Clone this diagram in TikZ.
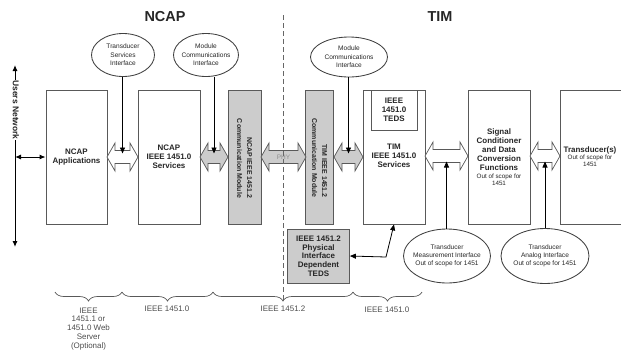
\documentclass[tikz,border=0pt]{standalone}
\usepackage{fontspec}
\setmainfont{Liberation Sans}
\usetikzlibrary{shapes.geometric,arrows.meta,decorations.pathreplacing,calc}
\newcommand\myblockarrow[5]{% name, x1, x2, yc, fill
  \draw[draw=black!65, line width=0.7bp, fill=#5, line join=miter]
    (#2,#4) -- ({#2+8},{#4-14}) -- ({#2+8},{#4-6.5}) -- ({#3-8},{#4-6.5}) -- ({#3-8},{#4-14})
    -- (#3,#4) -- ({#3-8},{#4+14}) -- ({#3-8},{#4+6.5}) -- ({#2+8},{#4+6.5}) -- ({#2+8},{#4+14}) -- cycle;
  \coordinate (#1) at ({(#2+#3)/2},#4);
  \coordinate (#1n) at ({(#2+#3)/2},{#4-6.5});
  \coordinate (#1s) at ({(#2+#3)/2},{#4+6.5});}
\begin{document}
\begin{tikzpicture}[x=1bp,y=-1bp,
 box/.style={draw=black!65, line width=0.8bp, fill=white, inner sep=0},
 gbox/.style={box, fill=black!20},
 lbl/.style={font=\bfseries\fontsize{8}{9}\selectfont, align=center, text=black!85},
 sm/.style={font=\fontsize{6.3}{7}\selectfont, align=center, text=black!85},
 ell/.style={ellipse, draw=black!75, line width=0.85bp, fill=white, inner sep=0},
 etxt/.style={font=\fontsize{6.6}{8.5}\selectfont, align=center, text=black!85},
 conn/.style={draw=black, line width=0.8bp, -{Triangle[length=6bp,width=5bp]}},
 brc/.style={decorate, decoration={brace, mirror, amplitude=9bp}, draw=black!65, line width=0.7bp},
 blbl/.style={font=\fontsize{8}{9}\selectfont, text=black!70, align=center},
 rot/.style={font=\bfseries\fontsize{7}{10}\selectfont, align=right, rotate=-90, text=black!85}
]
\useasboundingbox (0,0) rectangle (621,350);

% titles
\node[font=\bfseries\fontsize{14.5}{16}\selectfont, text=black!85] (tncap) at (165,17) {NCAP};
\node[font=\bfseries\fontsize{14.5}{16}\selectfont, text=black!85] (ttim) at (440,17) {TIM};

% users network
\coordinate (nt) at (15,65);
\coordinate (nb) at (15,247);
\coordinate (nj) at (15,157);
\draw[line width=1bp, {Latex[length=6bp,width=5bp]}-{Latex[length=6bp,width=5bp]}] (nt) -- (nb);
\node[font=\bfseries\fontsize{8.5}{9}\selectfont, rotate=-90, fill=white, inner sep=0.5bp, text=black!85] (un) at (16,110) {Users Network};

% boxes
\node[box, minimum width=61bp, minimum height=134bp] (app) at (76.5,157) {};
\node[lbl] at (app.center) {NCAP\\Applications};
\node[box, minimum width=62bp, minimum height=134bp] (ncapsvc) at (169,157) {};
\node[lbl] at (ncapsvc.center) {NCAP\\IEEE 1451.0\\Services};
\node[gbox, minimum width=33bp, minimum height=134bp] (ncapcm) at (244.5,157) {};
\node[rot] at (244.5,158.5) {NCAP IEEE 1451.2\\Communication Module};
\node[gbox, minimum width=28bp, minimum height=134bp] (timcm) at (319.5,157) {};
\node[rot] at (319.5,158) {TIM IEEE 1451.2\\Communication Module};
\node[box, minimum width=62bp, minimum height=134bp] (timsvc) at (394,157) {};
\node[box, minimum width=46bp, minimum height=40bp] (teds) at (394,110) {};
\node[lbl] at (teds.center) {IEEE\\1451.0\\TEDS};
\node[lbl] at (394,156) {TIM\\IEEE 1451.0\\Services};
\node[box, minimum width=62bp, minimum height=134bp] (sig) at (499,157) {};
\node[lbl] at (499,150) {Signal\\Conditioner\\and Data\\Conversion\\Functions};
\node[sm] at (499,180) {Out of scope for\\1451};
\draw[draw=black!65, line width=0.8bp] (623,90) -- (560,90) -- (560,224) -- (623,224);
\node[lbl] (trans) at (590,150) {Transducer(s)};
\node[sm] at (590,161) {Out of scope for\\1451};
\node[gbox, minimum width=62bp, minimum height=54bp] (pdt) at (318.5,256) {};
\node[lbl, font=\bfseries\fontsize{8}{8.7}\selectfont] at (pdt.center) {IEEE 1451.2\\Physical\\Interface\\Dependent\\TEDS};

% block arrows
\myblockarrow{a1}{107}{138}{157}{white}
\myblockarrow{a2}{200}{228}{157}{black!20}
\myblockarrow{a3}{261}{306}{157}{black!20}
\node[font=\fontsize{6.5}{7}\selectfont, text=black!45] (phy) at (a3) {PHY};
\myblockarrow{a4}{334}{363}{157}{black!20}
\myblockarrow{a5}{425}{468}{156}{white}
\myblockarrow{a6}{530}{560}{156}{white}

% users network link
\draw[line width=1bp, {Latex[length=6bp,width=5bp]}-{Latex[length=6bp,width=5bp]}] (nj) -- (app.west |- nj);

% ellipses
\node[ell, minimum width=63bp, minimum height=43bp] (e1) at (123,55) {};
\node[etxt] at (e1.center) {Transducer\\Services\\Interface};
\node[ell, minimum width=65bp, minimum height=43bp] (e2) at (206,55) {};
\node[etxt] at (e2.center) {Module\\Communications\\Interface};
\node[ell, minimum width=77bp, minimum height=40bp] (e3) at (349,57) {};
\node[etxt] at (e3.center) {Module\\Communications\\Interface};
\node[ell, minimum width=87bp, minimum height=54bp] (e4) at (447,256) {};
\node[etxt, font=\fontsize{6.6}{8}\selectfont] at (e4.center) {Transducer\\Measurement Interface\\Out of scope for 1451};
\node[ell, minimum width=88bp, minimum height=55bp] (e5) at (545,256) {};
\node[etxt, font=\fontsize{6.6}{8}\selectfont] at (e5.center) {Transducer\\Analog Interface\\Out of scope for 1451};

% connectors from ellipses
\draw[conn] (a1n |- e1.south) -- ($(a1n)+(0,3)$);
\draw[conn] (a2n |- e2.south) -- ($(a2n)+(0,3)$);
\draw[conn] (a4n |- e3.south) -- ($(a4n)+(0,3)$);
\draw[conn] (a5s |- e4.north) -- ($(a5s)+(0,-1)$);
\draw[conn] (a6s |- e5.north) -- ($(a6s)+(0,-1)$);

% PDT link
\coordinate (bend) at (386,257);
\draw[line width=0.8bp, {Triangle[length=6bp,width=5bp]}-{Triangle[length=6bp,width=5bp]}] (pdt.east) -- (bend) -- (timsvc.south);

% dashed divider
\coordinate (dt) at (283,15);
\coordinate (db) at (283,300);
\draw[draw=black!60, line width=0.8bp, dash pattern=on 5bp off 3bp] (dt) -- (db);

% braces
\coordinate (b0) at (55,292);
\coordinate (b1) at (122,292);
\coordinate (b2) at (213,292);
\coordinate (b3) at (353,292);
\coordinate (b4) at (422,292);
\draw[brc] (b0) -- (b1);
\draw[brc] (b1) -- (b2);
\draw[brc] (b2) -- (b3);
\draw[brc] (b3) -- (b4);
\node[blbl, anchor=north] (l1) at (88.5,304) {IEEE\\1451.1 or\\1451.0 Web\\Server\\(Optional)};
\node[blbl] (l2) at (167,309) {IEEE 1451.0};
\node[blbl] (l3) at (283,309) {IEEE 1451.2};
\node[blbl] (l4) at (387,310) {IEEE 1451.0};
\end{tikzpicture}
\end{document}
